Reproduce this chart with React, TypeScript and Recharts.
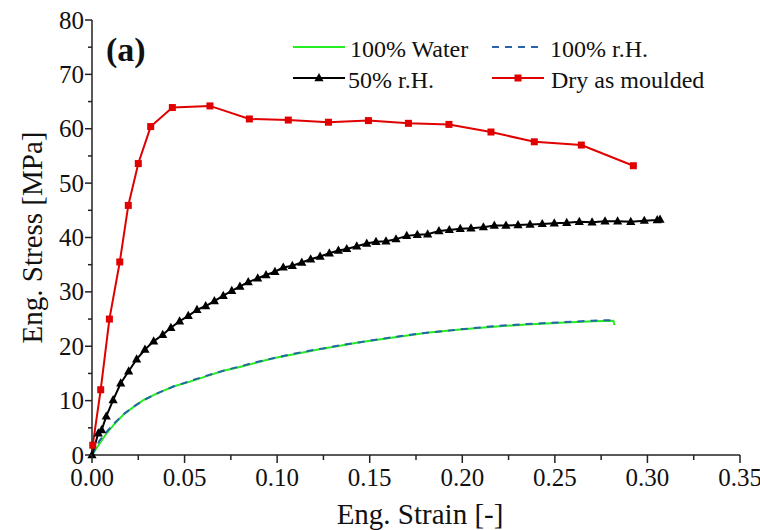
import { LineChart, Line, XAxis, YAxis, Legend } from 'recharts';

// strain [-] / stress [MPa]
const waterStrain = [0, 0.0043, 0.0079, 0.0124, 0.0169, 0.0223, 0.0277, 0.0349, 0.0439, 0.0529, 0.062, 0.0709, 0.0799, 0.089, 0.0979, 0.107, 0.116, 0.1249, 0.134, 0.1438, 0.1627, 0.1808, 0.1988, 0.2167, 0.2348, 0.2528, 0.2708, 0.2816, 0.2822];
const waterStress = [0, 2.2, 4.0, 5.8, 7.4, 8.8, 10.1, 11.3, 12.6, 13.5, 14.5, 15.5, 16.2, 17.0, 17.8, 18.4, 19.0, 19.6, 20.1, 20.7, 21.6, 22.5, 23.1, 23.6, 24.0, 24.3, 24.6, 24.7, 23.9];

const rhStrain = [0, 0.004, 0.008, 0.0125, 0.017, 0.0225, 0.028, 0.035, 0.044, 0.053, 0.062, 0.071, 0.08, 0.089, 0.098, 0.107, 0.116, 0.125, 0.134, 0.144, 0.163, 0.181, 0.199, 0.217, 0.235, 0.253, 0.27, 0.28];
const rhStress = [0, 2.6, 4.3, 6.0, 7.5, 8.9, 10.1, 11.3, 12.6, 13.6, 14.6, 15.5, 16.3, 17.1, 17.8, 18.5, 19.1, 19.6, 20.2, 20.7, 21.7, 22.5, 23.1, 23.7, 24.1, 24.4, 24.7, 24.8];

const halfStrain = [0, 0.0034, 0.0052, 0.0077, 0.0114, 0.0155, 0.0198, 0.0241, 0.0286, 0.0333, 0.0382, 0.0426, 0.0473, 0.052, 0.0567, 0.0614, 0.0661, 0.0709, 0.0755, 0.0799, 0.0844, 0.0895, 0.094, 0.0988, 0.1033, 0.1082, 0.1133, 0.1181, 0.1232, 0.1282, 0.1331, 0.1376, 0.143, 0.1484, 0.1534, 0.1588, 0.1642, 0.17, 0.1757, 0.1813, 0.1874, 0.193, 0.1989, 0.2047, 0.2114, 0.2173, 0.2236, 0.2301, 0.2366, 0.2432, 0.2497, 0.2564, 0.2632, 0.2701, 0.2771, 0.2839, 0.291, 0.2983, 0.3053, 0.3068];
const halfStress = [0, 4.0, 4.6, 7.1, 10.1, 13.2, 15.4, 17.6, 19.4, 20.9, 22.1, 23.4, 24.6, 25.6, 26.7, 27.4, 28.3, 29.3, 30.2, 31.0, 31.8, 32.5, 33.1, 33.7, 34.5, 34.8, 35.4, 36.0, 36.5, 37.1, 37.6, 37.9, 38.4, 38.9, 39.2, 39.3, 39.7, 40.3, 40.5, 40.6, 41.2, 41.4, 41.6, 41.7, 41.9, 42.2, 42.2, 42.3, 42.4, 42.5, 42.6, 42.7, 42.9, 42.8, 43.0, 43.0, 42.9, 43.1, 43.2, 43.3];

const dryStrain = [0, 0.0004, 0.0047, 0.0094, 0.015, 0.0196, 0.025, 0.0317, 0.0434, 0.0637, 0.085, 0.106, 0.1277, 0.1493, 0.1709, 0.1928, 0.2155, 0.2389, 0.2643, 0.2924];
const dryStress = [0, 1.8, 12.0, 25.0, 35.5, 45.9, 53.6, 60.4, 63.9, 64.2, 61.8, 61.6, 61.2, 61.5, 61.0, 60.8, 59.4, 57.6, 57.0, 53.2];

const xTicks = [0, 0.025, 0.05, 0.075, 0.1, 0.125, 0.15, 0.175, 0.2, 0.225, 0.25, 0.275, 0.3, 0.325, 0.35];
const yTicks = [0, 5, 10, 15, 20, 25, 30, 35, 40, 45, 50, 55, 60, 65, 70, 75, 80];

const toRows = (xs: number[], ys: number[]) => xs.map((strain, i) => ({ strain, stress: ys[i] }));
const waterData = toRows(waterStrain, waterStress);
const rhData = toRows(rhStrain, rhStress);
const halfData = toRows(halfStrain, halfStress);
const dryData = toRows(dryStrain, dryStress);

const FONT = '"Liberation Serif", "Times New Roman", serif';
const AXIS = '#222';
const GREEN = '#22ee22';
const BLUE = '#2a64a8';
const RED = '#e00000';

const isMajorX = (v: number) => Math.abs(Math.round(v * 20) - v * 20) < 1e-6;
const isMajorY = (v: number) => v % 10 === 0;

function BottomTick({ x, y, payload }: any) {
  const major = isMajorX(payload.value);
  return (
    <g>
      <line x1={x} x2={x} y1={y} y2={y + (major ? 8 : 5)} stroke={AXIS} strokeWidth={1.5} />
      {major && (
        <text x={x} y={y + 31} textAnchor="middle" fontSize={25} fontFamily={FONT} fill="#111">
          {payload.value.toFixed(2)}
        </text>
      )}
    </g>
  );
}

function TopTick({ x, y, payload }: any) {
  const major = isMajorX(payload.value);
  return <line x1={x} x2={x} y1={y} y2={y + (major ? 7 : 4)} stroke={AXIS} strokeWidth={1.5} />;
}

function LeftTick({ x, y, payload }: any) {
  const major = isMajorY(payload.value);
  return (
    <g>
      <line x1={x} x2={x - (major ? 7 : 4)} y1={y} y2={y} stroke={AXIS} strokeWidth={1.5} />
      {major && (
        <text x={x - 8} y={y} dy="0.34em" textAnchor="end" fontSize={25} fontFamily={FONT} fill="#111">
          {payload.value}
        </text>
      )}
    </g>
  );
}

function RightTick({ x, y, payload }: any) {
  const major = isMajorY(payload.value);
  return <line x1={x} x2={x - (major ? 7 : 4)} y1={y} y2={y} stroke={AXIS} strokeWidth={1.5} />;
}

function Triangle({ cx, cy, fill }: any) {
  if (cx == null || cy == null) return null;
  return <polygon points={`${cx},${cy - 5} ${cx - 4.6},${cy + 3.2} ${cx + 4.6},${cy + 3.2}`} fill={fill} />;
}

function Square({ cx, cy, fill, index }: any) {
  if (cx == null || cy == null || index === 0) return null;
  return <rect x={cx - 3.5} y={cy - 3.5} width={7} height={7} fill={fill} />;
}

const legendItems = [
  { name: '100% Water', color: GREEN, dash: undefined, marker: null, lx: 293, ty: 57, ly: 47, tx: 350 },
  { name: '100% r.H.', color: BLUE, dash: '7 6', marker: null, lx: 492, ty: 57, ly: 47, tx: 550 },
  { name: '50% r.H.', color: '#000', dash: undefined, marker: 'tri', lx: 293, ty: 88, ly: 78, tx: 348 },
  { name: 'Dry as moulded', color: RED, dash: undefined, marker: 'sq', lx: 492, ty: 88, ly: 78, tx: 551 },
];

function LegendBox() {
  return (
    <svg width={760} height={100} style={{ display: 'block' }}>
      <text x={106} y={61} fontSize={34} fontWeight="bold" fontFamily={FONT} fill="#111">(a)</text>
      {legendItems.map((it) => (
        <g key={it.name}>
          <line x1={it.lx} x2={it.lx + 52} y1={it.ly} y2={it.ly} stroke={it.color} strokeWidth={2} strokeDasharray={it.dash} />
          {it.marker === 'tri' && <Triangle cx={it.lx + 26} cy={it.ly} fill={it.color} />}
          {it.marker === 'sq' && <Square cx={it.lx + 26} cy={it.ly} fill={it.color} index={1} />}
          <text x={it.tx} y={it.ty} fontSize={24} fontFamily={FONT} fill="#111">{it.name}</text>
        </g>
      ))}
    </svg>
  );
}

function XTitle({ viewBox }: any) {
  return (
    <text x={viewBox.x + viewBox.width / 2 + 4} y={viewBox.y + 69} textAnchor="middle" fontSize={29} fontFamily={FONT} fill="#111">
      Eng. Strain [-]
    </text>
  );
}

function YTitle({ viewBox }: any) {
  const cx = 42;
  const cy = viewBox.y + viewBox.height / 2;
  return (
    <text x={cx} y={cy} transform={`rotate(-90, ${cx}, ${cy})`} textAnchor="middle" fontSize={29} fontFamily={FONT} fill="#111">
      Eng. Stress [MPa]
    </text>
  );
}

export default function App() {
  const axisLine = { stroke: AXIS, strokeWidth: 1.5 };
  return (
    <div style={{ position: 'absolute', left: 0, top: 0, background: '#fff' }}>
      <LineChart width={760} height={530} margin={{ top: 20, right: 20, bottom: 0, left: 0 }}>
        <XAxis
          type="number"
          dataKey="strain"
          domain={[0, 0.35]}
          ticks={xTicks}
          interval={0}
          height={75}
          tickSize={0}
          tickMargin={0}
          tickLine={false}
          axisLine={axisLine}
          tick={<BottomTick />}
          label={<XTitle />}
        />
        <XAxis
          xAxisId="top"
          orientation="top"
          type="number"
          domain={[0, 0.35]}
          ticks={xTicks}
          interval={0}
          height={0}
          tickSize={0}
          tickMargin={0}
          tickLine={false}
          axisLine={axisLine}
          tick={<TopTick />}
        />
        <YAxis
          type="number"
          domain={[0, 80]}
          ticks={yTicks}
          interval={0}
          width={92}
          tickSize={0}
          tickMargin={0}
          tickLine={false}
          axisLine={axisLine}
          tick={<LeftTick />}
          label={<YTitle />}
        />
        <YAxis
          yAxisId="right"
          orientation="right"
          type="number"
          domain={[0, 80]}
          ticks={yTicks}
          interval={0}
          width={0}
          tickSize={0}
          tickMargin={0}
          tickLine={false}
          axisLine={axisLine}
          tick={<RightTick />}
        />
        <Legend
          layout="horizontal"
          verticalAlign="middle"
          align="center"
          content={<LegendBox />}
          wrapperStyle={{ position: 'absolute', left: 0, top: 0, width: 760, height: 100, pointerEvents: 'none' }}
        />
        <Line data={waterData} dataKey="stress" name="100% Water" stroke={GREEN} strokeWidth={2} dot={false} isAnimationActive={false} />
        <Line data={rhData} dataKey="stress" name="100% r.H." stroke={BLUE} strokeWidth={2} strokeDasharray="7 6" dot={false} isAnimationActive={false} />
        <Line data={halfData} dataKey="stress" name="50% r.H." stroke="#000" strokeWidth={2} dot={<Triangle fill="#000" />} isAnimationActive={false} />
        <Line data={dryData} dataKey="stress" name="Dry as moulded" stroke={RED} strokeWidth={2} dot={<Square fill={RED} />} isAnimationActive={false} />
      </LineChart>
    </div>
  );
}
